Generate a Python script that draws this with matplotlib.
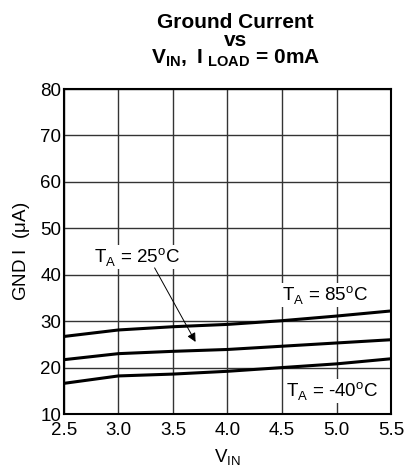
import numpy as np
import matplotlib
matplotlib.use("Agg")
import matplotlib.pyplot as plt

plt.rcParams['font.family'] = ['Liberation Sans', 'DejaVu Sans']
plt.rcParams['mathtext.fontset'] = 'custom'
plt.rcParams['mathtext.rm'] = 'Liberation Sans'
plt.rcParams['mathtext.bf'] = 'Liberation Sans:bold'

# data
vin = [2.5, 3.0, 3.5, 4.0, 4.5, 5.0, 5.5]
gnd_85 = [26.7, 28.1, 28.8, 29.3, 30.1, 31.1, 32.2]
gnd_25 = [21.7, 23.0, 23.5, 23.9, 24.6, 25.3, 26.0]
gnd_m40 = [16.6, 18.2, 18.6, 19.2, 20.0, 20.8, 21.9]

fig = plt.figure(figsize=(4.04, 4.71), dpi=100)
ax = fig.add_axes([0.158, 0.121, 0.81, 0.69])

for g in [gnd_85, gnd_25, gnd_m40]:
    ax.plot(vin, g, color='black', lw=2.2, zorder=3)

ax.set_xlim(2.5, 5.5)
ax.set_ylim(10, 80)
ax.set_xticks(np.arange(2.5, 5.51, 0.5))
ax.set_xticklabels(['2.5', '3.0', '3.5', '4.0', '4.5', '5.0', '5.5'])
ax.set_yticks(range(10, 81, 10))
ax.grid(True, color='#333333', lw=1.0)
ax.tick_params(length=0, labelsize=13.5)
ax.tick_params(axis='x', pad=6)
ax.tick_params(axis='y', pad=2)
for s in ax.spines.values():
    s.set_linewidth(1.5)

bbox = dict(facecolor='white', edgecolor='none', pad=1)
ax.text(2.78, 42.6, r'T$_\mathregular{A}$ = 25$^\mathregular{o}$C', fontsize=13.5,
        bbox=bbox, zorder=4)
ax.text(4.50, 34.4, r'T$_\mathregular{A}$ = 85$^\mathregular{o}$C', fontsize=13.5,
        bbox=bbox, zorder=4)
ax.text(4.54, 13.7, r'T$_\mathregular{A}$ = -40$^\mathregular{o}$C', fontsize=13.5,
        bbox=bbox, zorder=4)
ax.annotate('', xy=(3.72, 25.0), xytext=(3.32, 42.0),
            arrowprops=dict(arrowstyle='-|>', color='black', lw=0.7,
                            mutation_scale=13), zorder=5)

ax.set_ylabel(r'GND I  ($\mathregular{\mu}$A)', fontsize=13.5, labelpad=6)
ax.set_xlabel(r'V$_\mathregular{IN}$', fontsize=13.5, labelpad=6)

fig.text(0.582, 0.953, 'Ground Current', ha='center', va='center',
         fontsize=15, fontweight='bold')
fig.text(0.582, 0.915, 'vs', ha='center', va='center',
         fontsize=15, fontweight='bold')
fig.text(0.582, 0.876, r'$\mathbf{V_{IN},\ I_{\ LOAD}}$ = 0mA', ha='center',
         va='center', fontsize=15, fontweight='bold')

fig.savefig('out.png', dpi=100)
